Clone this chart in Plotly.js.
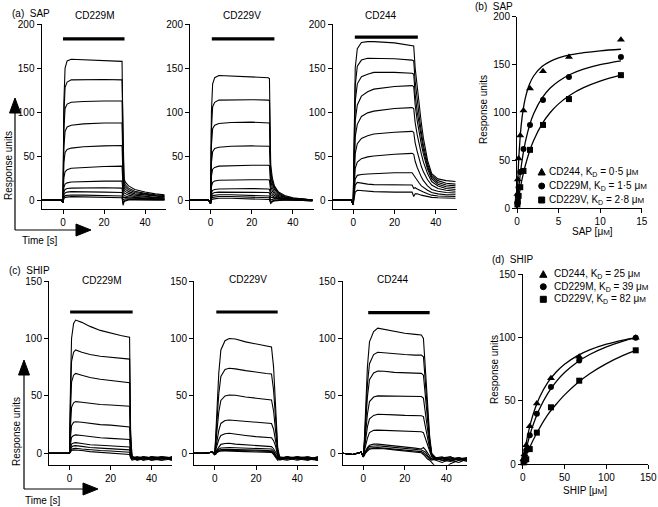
<!DOCTYPE html>
<html><head><meta charset="utf-8">
<script src="https://cdn.plot.ly/plotly-3.0.1.min.js"></script>
<style>html,body{margin:0;padding:0;background:#fff}#chart{width:658px;height:507px}</style>
</head><body><div id="chart"></div>
<script>
// ---------- Sensorgram data ----------
// (a) SAP, CD229M
const tSapM = [-10, -1, 0, 0.4, 1, 2, 4, 10, 20, 28.8, 29.3, 29.8, 30.5, 32, 35, 40, 45, 49.5];
const sapM = [
 [0,0,-3,110,150,158,160,159.5,158.5,157.5,60,24,20,16,12,9,7,6],
 [0,0,-3,95,128,134,136.5,137,137,136.5,50,20,17,13.5,10,7.5,6,5],
 [0,0,-3,80,104,109,111,112,112.5,112.5,40,17,14.5,11.5,8.5,6.5,5,4],
 [0,0,-3,60,78,83,85,86.5,87.5,87.5,32,14,12,9.5,7,5.5,4,3.5],
 [0,0,-3,42,54,57.5,59,60.5,61.5,62,22,11,9.5,7.5,5.5,4,3,2.5],
 [0,0,-3,25,32,34.5,36,37,38,38.5,14,8,7,5.5,4,3,2.5,2],
 [0,0,-3,14,18,19.5,20.5,21,21.5,21.5,8,5,4.5,3.5,3,2,1.5,1.5],
 [0,0,-3,9,12,13,13.5,14,14,13.5,3,3,3,2.5,2,1.5,1,1],
 [0,0,-3,6,8,9,9.5,9.5,9,8.5,0,1,1.5,1.5,1,1,0.5,0.5],
 [0,0,-3,3,5,5.5,5.7,5.5,5,4.5,-4,-1,0,0.5,0.5,0,0,0],
 [0,0,-3,1.5,3,3.5,3.8,3.5,3,2.5,-6,-2,-1,0,0,0,0,0]
];
// (a) SAP, CD229V
const tSapV = [-10, -1, 0, 0.4, 1, 2, 4, 10, 20, 28, 28.6, 29.2, 30, 31, 33, 36, 40, 45, 49.5];
const sapV = [
 [0,0,-4,100,132,139,141.5,141,140,139,138,40,25,16,9,5,2.5,1,0],
 [0,0,-4,80,106,111,113.5,114,114,113.5,113,34,21,14,8,4,2,1,0],
 [0,0,-4,62,81,85,87,88,88.5,88,87.5,28,18,12,6.5,3.5,2,1,0],
 [0,0,-4,42,55,58.5,60,61,61.5,61.5,61,22,14,9,5,3,1.5,0.5,0],
 [0,0,-4,27,35,37,38.5,39,39.5,39.5,39,16,10,7,4,2,1,0.5,0],
 [0,0,-4,15,20,21.5,22.5,23,23,23,22.5,10,7,5,3,1.5,1,0,0],
 [0,0,-4,8,11,12,12.5,13,13,12.5,12,6,4.5,3.5,2,1,0.5,0,0],
 [0,0,-4,5,7.5,8.5,9,9,9,8.5,8,3,3,2.5,1.5,1,0.5,0,-0.5],
 [0,0,-4,3,5,5.5,6,6,5.5,5,4.5,0,1,1.5,1,0.5,0,0,-0.5],
 [0,0,-4,1.5,3,3.5,4,4,3.5,3,2.5,-3,-1,0,0,0,0,-0.5,-1],
 [0,0,-4,0,1,1.5,2,2,1.5,1,0.5,-4,-2,-1,-0.5,0,0,-0.5,-1]
];
// (a) SAP, CD244
const tSap244 = [-10, -1, 0, 0.5, 1, 2, 4, 7, 10, 20, 28.5, 29.3, 30, 31, 32, 33, 34, 36, 38, 41, 45, 49.5];
const sap244c = [
 [0,0,-5,100,150,172,179,180,180,178.5,176,175,150,128,106,87,70,45,30,24,22,21],
 [0,0,-5,85,130,152,159,161,161,160.5,159,158,135,113,94,77,62,41,28,22,19,18],
 [0,0,-5,75,112,132,140,143,145,145,144,143,120,100,84,70,57,38,26,20,17,16],
 [0,0,-5,60,90,108,118,123,126,129,130,129,108,90,75,63,52,35,24,18,15,14],
 [0,0,-5,48,72,86,95,99,101,104,105,104,88,74,62,52,43,30,21,16,13,12],
 [0,0,-5,35,53,64,70,73,75,77,78,77,65,55,46,38,32,23,17,13,11,10],
 [0,0,-5,24,36,43,47,49,50,52,53,52,44,37,31,26,22,16,12,10,8.5,8],
 [0,0,-5,15,24,28,29,29.5,30,31,31,28,25,22,19,16,14,11,8.5,7,6,6],
 [0,0,-5,10,17,20,19,18,17.5,17,17,13,14,12.5,11,10,9,7,5.5,4.5,4,4],
 [0,0,-5,5,9,11,10.5,10,9.5,9,9,4,7,7,6,5.5,5,4,3,2.5,2,2]
];
// (c) SHIP, CD229M
const tShipM = [-10, -5, -1, 0, 0.5, 1, 2, 3, 6, 10, 15, 20, 25, 28, 29.3, 29.8, 30.5, 33, 36, 40, 45, 50];
const shipM = [
 [0,0,0,0,60,100,113,116,114,110.5,107,104.5,102.5,101.5,101,20,-4,-5,-3,-6,-4,-5],
 [0,0,0,0,50,80,88,90,88,86,84.5,83.5,83,82.5,82,15,-3,-4,-6,-3,-5,-4],
 [0,0,0,0,38,62,68,69.5,68,66,64.5,63.5,62.5,62,61.5,10,-5,-3,-4,-5,-6,-3],
 [0,0,0,0,24,40,44,45,44.5,43.5,42.5,42,41.5,41,41,6,-4,-6,-3,-4,-3,-6],
 [0,0,0,0,14,24,27,27.5,27,26,25,24.5,23.8,23.2,23,3,-3,-5,-5,-3,-4,-5],
 [0,0,0,0,8,14,15.5,16,15.5,14.5,13.5,13,12.5,12.2,12,1,-4,-3,-6,-5,-3,-4],
 [0,0,0,0,4,8,9,9.3,8.5,7.5,7,6.5,6,5.8,5.5,-1,-3,-4,-4,-6,-5,-3],
 [0,0,0,0,3,5.5,6.5,6.7,6,5,4.5,4,3.5,3,3,-2,-5,-4,-3,-4,-6,-5],
 [0,0,0,0,2,3.5,4.2,4.4,3.8,3,2.5,2,1.5,1,1,-3,-4,-6,-5,-3,-4,-6],
 [0,0,0,0,1,2.5,3,3,2.5,1.5,1,0.5,0,-0.5,-1,-4,-6,-5,-4,-5,-3,-4]
];
// (c) SHIP, CD229V
const tShipV = [-10, -5, -1, 0, 0.5, 1, 2, 3, 5, 7, 10, 15, 20, 25, 27.5, 28.5, 29.5, 30.5, 31.5, 35, 40, 45, 50];
const shipV = [
 [0,0,1,-1,15,35,70,90,98,100,99.5,97,95,93.5,92.5,75,40,5,-4,-3,-5,-4,-6],
 [0,0,1,-1,11,26,52,67,73,74,73.5,72,70.5,69.5,69,55,30,3,-5,-4,-3,-5,-4],
 [0,0,1,-1,8,18,36,46,50,50.7,50.5,49,48,47,46.5,37,20,1,-4,-5,-3,-4,-6],
 [0,0,1,-1,4,10,20,26,28.5,29,28.5,27.5,27,26.5,26,21,12,0,-5,-3,-5,-6,-3],
 [0,0,1,-1,3,6,12,15.5,17,17.4,16.5,15.5,14.5,14,13.6,11,6,-2,-4,-5,-4,-3,-5],
 [0,0,1,-1,1.5,3,6,7.8,8.5,8.7,8,7.5,7,6.2,5.8,4,1,-3,-5,-6,-4,-5,-3],
 [0,0,1,-1,1,2,3.5,4.6,5,5,4.8,4.5,4.2,4,3.8,2,-1,-4,-3,-4,-6,-4,-5],
 [0,0,1,-1,0.5,1.5,2.5,3.2,3.5,3.5,3.3,3,2.8,2.5,2.3,1,-2,-5,-4,-5,-3,-6,-4],
 [0,0,1,-1,0,1,2,2.4,2.6,2.6,2.4,2.2,2,1.8,1.6,0,-3,-3,-6,-4,-5,-3,-5],
 [0,0,1,-1,-1,0.5,1.5,2,2,2,1.8,1.5,1.2,1,0.8,-1,-4,-6,-5,-3,-4,-5,-6]
];
// (c) SHIP, CD244
const tShip244 = [-10, -5, -1, 0, 0.5, 1, 2, 3, 5, 7, 10, 15, 20, 25, 28, 29, 30, 31, 32, 33, 35, 38, 42, 46, 50];
const ship244c = [
 [0,-1,1,-3,10,35,75,97,106,109,108,106,104.5,103.5,103,100,70,40,15,0,-4,-6,-4,-5,-7],
 [0,-1,1,-3,8,28,60,78,86,88,87.5,86.5,86,85.5,85.5,84,58,33,12,-1,-5,-4,-6,-4,-5],
 [0,-1,1,-3,7,23,49,64,70,71.7,71.5,70.5,70,69.8,69.6,68,47,27,10,-1,-4,-5,-3,-6,-4],
 [0,-1,1,-3,5,16,34,45,49,50,50,49.5,49.5,49.5,49.4,48,33,19,7,-2,-5,-6,-5,-4,-6],
 [0,-1,1,-3,3,11,23,30,33,34,34,33.5,33,33,32.7,32,22,13,4,-2,-4,-3,-6,-5,-4],
 [0,-1,1,-3,2,6,13,18,20,20.2,20,19.5,19.2,19,18.8,18,12,7,2,-3,-5,-4,-3,-6,-5],
 [0,-1,1,-3,0,2,5,7,8,8,7.5,6.5,5.5,4.5,3.8,5,3,0,-3,-5,-6,-8,-5,-4,-6],
 [0,-1,1,-3,-1,1,4,6,6.6,6.6,6,5,4,3.3,2.9,2,1,-2,-4,-5,-4,-6,-7,-5,-4],
 [0,-1,1,-3,-1,0.5,3,4.5,5,5,4.5,3.5,2.5,2,1.5,0.5,-1,-3,-5,-6,-5,-4,-6,-8,-5],
 [0,-1,1,-3,-2,0,2,3.5,4.3,4.3,4,3,2,1,0.5,-1,-3,-5,-6,-8,-12,-15,-9,-6,-5]
];
// injection bars [start, end, level]
const barSapStart = [0, 0.6, 0.8], barSapEnd = [30, 31, 31.3], barSapLevel = [183, 183, 185];
const barShipStart = [0.3, 0.8, 2.4], barShipEnd = [30.8, 30.5, 32], barShipLevel = [123, 123, 122.5];

// ---------- Binding data ----------
const sapConc = [12.5, 6.25, 3.125, 1.5625, 0.78, 0.39, 0.195, 0.098, 0.049];
const sap244 = [176, 158, 143, 125, 102, 76, 52, 30, 15];
const sap229M = [158, 137, 113, 87, 62, 38, 22, 12, 6];
const sap229V = [139, 114, 87, 61, 39, 22, 13, 7, 4];
const sapFitX = [0, 0.1, 0.25, 0.5, 0.75, 1, 1.5, 2, 3, 4, 5, 6.5, 8, 10, 12.5];
const sapFit244 = [0, 28.8, 57.5, 86.3, 103.6, 115.1, 129.5, 138.1, 147.9, 153.4, 156.9, 160.3, 162.4, 164.4, 166];
const sapFit229M = [0, 10.8, 24.6, 43.1, 57.5, 69, 86.3, 98.6, 115, 125.5, 132.7, 140.2, 145.3, 150, 154];
const sapFit229V = [0, 5.9, 13.9, 25.8, 36, 44.7, 59.3, 70.8, 87.9, 100, 109, 118.8, 125.9, 132.8, 138.9];

const shipConc = [135, 67.5, 33.75, 16.9, 8.44, 4.22, 2.11, 1.05];
const ship244 = [100, 85, 68, 48, 30, 15, 8, 4];
const ship229M = [100, 82, 61, 40, 23, 11, 6, 3];
const ship229V = [90, 66, 45, 25, 12, 4, 3, 1.5];
const shipFitX = [0, 2, 5, 10, 15, 20, 30, 40, 50, 65, 80, 100, 120, 135];
const shipFit244 = [0, 8.8, 19.75, 33.9, 44.4, 52.7, 64.6, 72.9, 79, 85.6, 90.3, 94.8, 98.1, 100];
const shipFit229M = [0, 6.3, 14.6, 26.3, 35.8, 43.7, 56, 65.3, 72.4, 80.6, 86.7, 92.7, 97.3, 100];
const shipFit229V = [0, 3.4, 8.3, 15.7, 22.4, 28.5, 39.2, 47.4, 54.8, 64, 71.5, 79.5, 86, 90];

// ---------- Build ----------
const W = 658, H = 507;
const FONT = 'Liberation Sans, Arial, Helvetica, sans-serif';
const px = v => v / W, py = v => 1 - v / H;
const traces = [];
function sensor(t, curves, ax, bs, be, bl) {
  curves.forEach(c => traces.push({x: t, y: c, xaxis: 'x' + ax, yaxis: 'y' + ax, mode: 'lines',
    line: {color: '#000', width: 1.1}, hoverinfo: 'skip', showlegend: false}));
  traces.push({x: [bs, be], y: [bl, bl], xaxis: 'x' + ax, yaxis: 'y' + ax, mode: 'lines',
    line: {color: '#000', width: 3.2}, showlegend: false});
}
sensor(tSapM, sapM, '', barSapStart[0], barSapEnd[0], barSapLevel[0]);
sensor(tSapV, sapV, '2', barSapStart[1], barSapEnd[1], barSapLevel[1]);
sensor(tSap244, sap244c, '3', barSapStart[2], barSapEnd[2], barSapLevel[2]);
sensor(tShipM, shipM, '5', barShipStart[0], barShipEnd[0], barShipLevel[0]);
sensor(tShipV, shipV, '6', barShipStart[1], barShipEnd[1], barShipLevel[1]);
sensor(tShip244, ship244c, '7', barShipStart[2], barShipEnd[2], barShipLevel[2]);

function binding(ax, cx, sets) {
  sets.forEach(s => {
    traces.push({x: s.fx, y: s.fy, xaxis: 'x' + ax, yaxis: 'y' + ax, mode: 'lines', line: {color: '#000', width: 1.3, shape: 'spline'}, showlegend: false, cliponaxis: false});
    traces.push({x: cx, y: s.y, xaxis: 'x' + ax, yaxis: 'y' + ax, mode: 'markers', marker: {color: '#000', symbol: s.sym, size: s.size}, showlegend: false, cliponaxis: false});
  });
}
binding('4', sapConc, [
  {y: sap244, fx: sapFitX, fy: sapFit244, sym: 'triangle-up', size: 7},
  {y: sap229M, fx: sapFitX, fy: sapFit229M, sym: 'circle', size: 6},
  {y: sap229V, fx: sapFitX, fy: sapFit229V, sym: 'square', size: 6}]);
binding('8', shipConc, [
  {y: ship244, fx: shipFitX, fy: shipFit244, sym: 'triangle-up', size: 7},
  {y: ship229M, fx: shipFitX, fy: shipFit229M, sym: 'circle', size: 6},
  {y: ship229V, fx: shipFitX, fy: shipFit229V, sym: 'square', size: 6}]);

const axBase = {showline: true, linecolor: '#000', linewidth: 1, ticks: 'outside', ticklen: 4, tickwidth: 1,
  tickcolor: '#000', showgrid: false, zeroline: false, tickfont: {family: FONT, size: 10, color: '#000'}, fixedrange: true};
const layout = {width: W, height: H, margin: {l: 0, r: 0, t: 0, b: 0}, paper_bgcolor: '#fff', plot_bgcolor: 'rgba(0,0,0,0)',
  showlegend: false, font: {family: FONT, size: 10, color: '#000'}, annotations: [], shapes: []};
function axes(key, xd, yd, xr, yr, xt, yt) {
  const n = key === '' ? '' : key;
  layout['xaxis' + n] = Object.assign({}, axBase, {domain: [px(xd[0]), px(xd[1])], range: xr, tickvals: xt, anchor: 'y' + n});
  layout['yaxis' + n] = Object.assign({}, axBase, {domain: [py(yd[1]), py(yd[0])], range: yr, tickvals: yt, anchor: 'x' + n});
}
const tx = [0, 20, 40];
axes('', [41.5, 165.5], [24, 208.8], [-10.5, 50], [-10, 200], tx, [0, 50, 100, 150, 200]);
axes('2', [190, 313.5], [24, 208.8], [-10, 50], [-10, 200], tx, [0, 50, 100, 150, 200]);
axes('3', [332.5, 456.5], [24, 208.8], [-10, 50], [-10, 200], tx, [0, 50, 100, 150, 200]);
axes('4', [517, 641.7], [16.7, 208.3], [0, 15], [0, 200], [0, 5, 10, 15], [0, 50, 100, 150, 200]);
axes('5', [49, 172], [281, 464.8], [-10, 50], [-10, 150], tx, [0, 50, 100, 150]);
axes('6', [194, 318], [281, 464.8], [-10, 50], [-10, 150], tx, [0, 50, 100, 150]);
axes('7', [342.5, 467], [281, 464.8], [-10, 50], [-10, 150], tx, [0, 50, 100, 150]);
axes('8', [522.7, 648.3], [274.3, 464.3], [0, 150], [0, 150], [0, 50, 100, 150], [0, 50, 100, 150]);

function ann(text, x, y, o) {
  layout.annotations.push(Object.assign({text, x: px(x), y: py(y), xref: 'paper', yref: 'paper', showarrow: false,
    xanchor: 'center', yanchor: 'middle', font: {family: FONT, size: 10, color: '#000'}}, o || {}));
}
const sm = t => "<span style='font-size:8px'>" + t + "</span>";
ann('(a)  SAP', 10, 13, {xanchor: 'left'});
ann('CD229M', 94, 15); ann('CD229V', 241.5, 15); ann('CD244', 381, 15);
ann('(b)  SAP', 473, 7, {xanchor: 'left'});
ann('(c)  SHIP', 7, 270, {xanchor: 'left'});
ann('CD229M', 101, 280); ann('CD229V', 248, 279); ann('CD244', 393, 279);
ann('(d)  SHIP', 490, 259, {xanchor: 'left'});
ann('Response units', 8, 166, {textangle: -90});
ann('Response units', 16, 432, {textangle: -90});
ann('Response units', 483, 110, {textangle: -90});
ann('Response units', 494, 370, {textangle: -90});
ann('Time [s]', 20, 240, {xanchor: 'left'});
ann('Time [s]', 23, 500, {xanchor: 'left'});
ann('SAP [μ' + sm('M') + ']', 592, 231);
ann('SHIP [μ' + sm('M') + ']', 585, 490);
// legends
ann('CD244, K<sub>D</sub> = 0·5 μ' + sm('M'), 547, 172, {xanchor: 'left'});
ann('CD229M, K<sub>D</sub> = 1·5 μ' + sm('M'), 547, 186, {xanchor: 'left'});
ann('CD229V, K<sub>D</sub> = 2·8 μ' + sm('M'), 547, 200, {xanchor: 'left'});
ann('CD244, K<sub>D</sub> = 25 μ' + sm('M'), 552, 274.3, {xanchor: 'left'});
ann('CD229M, K<sub>D</sub> = 39 μ' + sm('M'), 552, 286.7, {xanchor: 'left'});
ann('CD229V, K<sub>D</sub> = 82 μ' + sm('M'), 552, 299.3, {xanchor: 'left'});

function pth(pts) { return 'M ' + pts.map(p => px(p[0]) + ' ' + py(p[1])).join(' L ') + ' Z'; }
const shp = o => layout.shapes.push(Object.assign({xref: 'paper', yref: 'paper', line: {color: '#000', width: 1}, fillcolor: '#000'}, o));
function legMarks(x, ys) {
  shp({type: 'path', path: pth([[x - 3.6, ys[0] + 3], [x, ys[0] - 3.6], [x + 3.6, ys[0] + 3]])});
  shp({type: 'circle', x0: px(x - 3), x1: px(x + 3), y0: py(ys[1] + 3), y1: py(ys[1] - 3)});
  shp({type: 'rect', x0: px(x - 3), x1: px(x + 3), y0: py(ys[2] + 3), y1: py(ys[2] - 3)});
}
legMarks(541.7, [172, 186, 200]);
legMarks(543.3, [274.3, 286.7, 299.3]);
// axis arrows
function arrows(x, y, topTip, rightTip) {
  shp({type: 'line', x0: px(x), x1: px(x), y0: py(y), y1: py(topTip + 14), line: {color: '#000', width: 1.2}});
  shp({type: 'path', path: pth([[x - 5.5, topTip + 15], [x, topTip], [x + 5.5, topTip + 15]])});
  shp({type: 'line', x0: px(x), x1: px(rightTip - 14), y0: py(y), y1: py(y), line: {color: '#000', width: 1.2}});
  shp({type: 'path', path: pth([[rightTip - 15, y - 6], [rightTip, y], [rightTip - 15, y + 6]])});
}
arrows(15, 230, 98, 91);
arrows(24, 489, 360, 98);

Plotly.newPlot('chart', traces, layout, {staticPlot: true, displayModeBar: false});
</script></body></html>
